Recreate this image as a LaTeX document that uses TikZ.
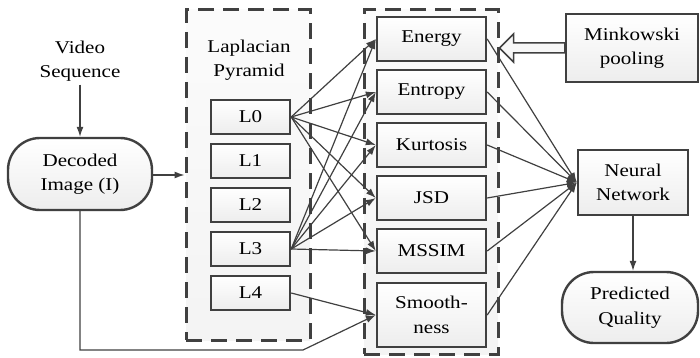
\documentclass[tikz,border=0pt]{standalone}
\usepackage{fontspec}
\setmainfont{Liberation Serif}[FakeStretch=1.17]
\usetikzlibrary{arrows.meta,calc,shadows}
\definecolor{edge}{HTML}{404040}
\begin{document}
\begin{tikzpicture}[x=1pt,y=-1pt,
  font=\fontsize{18}{24.5}\selectfont,
  box/.style={draw=edge, line width=2.4pt, top color=white, bottom color=gray!14,
    align=center, inner sep=0pt,
    drop shadow={opacity=0.1, shadow xshift=1pt, shadow yshift=-1pt}},
  pill/.style={box, rounded corners=32pt},
  group/.style={draw=edge, line width=3pt, dash pattern=on 16pt off 9pt,
    top color=gray!3, bottom color=gray!9, inner sep=0pt},
  lvl/.style={box, minimum width=79pt, minimum height=34pt},
  feat/.style={box, minimum width=109pt, minimum height=44pt},
  conn/.style={draw=edge, line width=1.2pt, -{Latex[length=10pt,width=7pt]}},
  hollow/.style={draw=edge, line width=1.5pt, fill=gray!6, line join=miter}
]
\useasboundingbox (0,0) rectangle (700,358);

% dashed containers
\node[group, minimum width=124pt, minimum height=330pt] (lpbox) at (248,175) {};
\node[group, minimum width=134pt, minimum height=344pt] (fbox) at (431,182) {};

% input side
\node[align=center, inner sep=3pt] (vid) at (80,61) {Video\\Sequence};
\node[pill, minimum width=144pt, minimum height=72pt] (dec) at (80,174) {Decoded\\Image (I)};

% Laplacian pyramid levels
\node[align=center] (lptitle) at (249,60) {Laplacian\\Pyramid};
\node[lvl] (l0) at (250.5,117) {L0};
\node[lvl] (l1) at (250.5,161) {L1};
\node[lvl] (l2) at (250.5,205) {L2};
\node[lvl] (l3) at (250.5,249) {L3};
\node[lvl] (l4) at (250.5,293) {L4};

% features
\node[feat] (energy)  at (431.5,39)  {Energy};
\node[feat] (entropy) at (431.5,92)  {Entropy};
\node[feat] (kurt)    at (431.5,145) {Kurtosis};
\node[feat] (jsd)     at (431.5,198) {JSD};
\node[feat] (mssim)   at (431.5,251) {MSSIM};
\node[feat, minimum height=64pt] (smooth) at (431.5,315) {Smooth-\\ness};

% right side
\node[box, minimum width=132pt, minimum height=68pt] (mink) at (632,48) {Minkowski\\pooling};
\node[box, minimum width=110pt, minimum height=65pt] (nn) at (633,182.5) {Neural\\Network};
\node[pill, minimum width=136pt, minimum height=71pt] (pq) at (630,307.5) {Predicted\\Quality};

% connectors
\draw[conn] (vid) -- (dec);
\draw[conn] (dec.east |- lpbox.west) -- (lpbox.west);
\coordinate (bend) at (303,350);
\draw[conn] (dec.south) -- (dec.south |- bend) -- (bend) -- (smooth.west);
\draw[conn] (l4.east) -- (smooth.west);

\foreach \f in {energy,entropy,kurt,jsd,mssim}{
  \draw[conn] (l0.east) -- (\f.west);
  \draw[conn] (l3.east) -- (\f.west);
}
\foreach \f in {energy,entropy,kurt,jsd,mssim,smooth}{
  \draw[conn] (\f.east) -- (nn.west);
}
\draw[conn] (nn.south) -- (nn.south |- pq.north);

% hollow block arrow from pooling to the energy feature
\coordinate (tip) at (fbox.east |- mink.west);
\draw[hollow] (tip) -- ($(tip)+(14,-14)$) -- ($(tip)+(14,-5)$)
  -- ($(mink.west)+(0,-5)$) -- ($(mink.west)+(0,5)$)
  -- ($(tip)+(14,5)$) -- ($(tip)+(14,14)$) -- cycle;
\end{tikzpicture}
\end{document}
